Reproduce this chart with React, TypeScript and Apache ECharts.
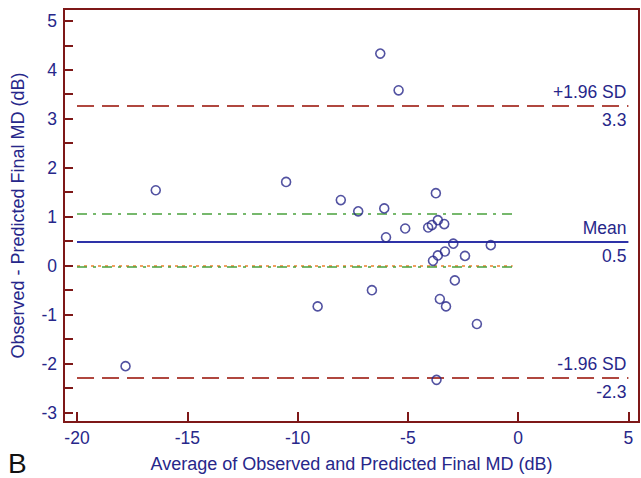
import React, { useEffect, useRef } from "react";
import * as echarts from "echarts";

// Average of observed and predicted final MD (dB)
const avgValues = [
  -6.25, -5.42, -16.43, -10.52, -8.04, -7.25, -6.07, -3.73, -5.12, -4.08,
  -3.91, -3.64, -3.35, -5.99, -2.94, -1.24, -3.64, -3.32, -3.86, -2.41,
  -2.87, -6.63, -3.55, -3.27, -9.09, -1.87, -3.7, -17.8,
];
// Observed - predicted final MD (dB)
const diffValues = [
  4.33, 3.58, 1.54, 1.71, 1.34, 1.11, 1.17, 1.48, 0.76, 0.78,
  0.83, 0.93, 0.85, 0.58, 0.45, 0.42, 0.21, 0.29, 0.1, 0.2,
  -0.3, -0.5, -0.68, -0.83, -0.83, -1.19, -2.33, -2.05,
];

const xTicks = [-20, -15, -10, -5, 0, 5];
const yLabels = [-3, -2, -1, 0, 1, 2, 3, 4, 5];
const yTicks = [-3, -2.5, -2, -1.5, -1, -0.5, 0, 0.5, 1, 1.5, 2, 2.5, 3, 3.5, 4, 4.5, 5];

const meanValue = 0.49;
const upperLoA = 3.27;
const lowerLoA = -2.29;
const ciUpper = 1.06;
const ciLower = -0.03;
const lineStart = -20;
const lineEnd = 5;
const ciEnd = -0.25;

const NAVY = "#27278a";
const MAROON = "#7e1818";
const FONT = "Liberation Sans, Arial, sans-serif";
const LABEL_SIZE = 17.5;

export default function App() {
  const ref = useRef<HTMLDivElement>(null);
  useEffect(() => {
    if (!ref.current) return;
    const chart = echarts.init(ref.current, null, { renderer: "svg" });
    const pts = avgValues.map((x, i) => [x, diffValues[i]]);

    const hLine = (
      y: number,
      x1: number,
      x2: number,
      color: string,
      type: any,
      width: number,
      label?: { text: string; pos: string }
    ) => [
      {
        coord: [x1, y],
        lineStyle: { color, type, width },
        label: label
          ? {
              show: true,
              formatter: label.text,
              position: label.pos,
              color: NAVY,
              fontSize: LABEL_SIZE,
              fontFamily: FONT,
              distance: [2, 5],
            }
          : { show: false },
      },
      { coord: [x2, y] },
    ];

    const SD = "#b0473f";
    const CLEAR = "rgba(0,0,0,0)";

    chart.setOption({
      animation: false,
      textStyle: { fontFamily: FONT },
      grid: {
        left: 64,
        right: 2,
        top: 9,
        bottom: 55,
        show: true,
        borderColor: MAROON,
        borderWidth: 2,
        backgroundColor: "transparent",
      },
      xAxis: {
        type: "value",
        min: -20.59,
        max: 5.48,
        name: "Average of Observed and Predicted Final MD (dB)",
        nameLocation: "middle",
        nameGap: 33,
        nameTextStyle: { color: NAVY, fontSize: 18, fontFamily: FONT },
        axisLine: { show: false, onZero: false },
        axisTick: {
          show: true,
          inside: true,
          length: 10,
          customValues: xTicks,
          lineStyle: { color: MAROON, width: 2 },
        },
        axisLabel: {
          customValues: xTicks,
          color: NAVY,
          fontSize: LABEL_SIZE,
          fontFamily: FONT,
          margin: 7,
        },
        splitLine: { show: false },
      },
      yAxis: {
        type: "value",
        min: -3.19,
        max: 5.24,
        name: "Observed - Predicted Final MD (dB)",
        nameLocation: "middle",
        nameGap: 37,
        nameTextStyle: { color: NAVY, fontSize: 18, fontFamily: FONT },
        axisLine: { show: false, onZero: false },
        axisTick: {
          show: true,
          inside: true,
          length: 9,
          customValues: yTicks,
          lineStyle: { color: MAROON, width: 2 },
        },
        axisLabel: {
          customValues: yLabels,
          color: NAVY,
          fontSize: LABEL_SIZE,
          fontFamily: FONT,
          margin: 7,
        },
        splitLine: { show: false },
      },
      graphic: [
        {
          type: "text",
          left: 8,
          top: 449,
          style: { text: "B", fontSize: 28, fontFamily: FONT, fill: "#111" },
        },
      ],
      series: [
        {
          type: "scatter",
          data: pts,
          symbol: "circle",
          symbolSize: 9,
          itemStyle: { color: CLEAR, borderColor: NAVY, borderWidth: 1.6 },
          z: 5,
          markLine: {
            silent: true,
            symbol: ["none", "none"],
            data: [
              hLine(upperLoA, lineStart, lineEnd, SD, [17, 8], 2, { text: "+1.96 SD", pos: "insideEndTop" }),
              hLine(upperLoA, lineStart, lineEnd, CLEAR, "solid", 1, { text: "3.3", pos: "insideEndBottom" }),
              hLine(meanValue, lineStart, lineEnd, "#2e32a8", "solid", 2, { text: "Mean", pos: "insideEndTop" }),
              hLine(meanValue, lineStart, lineEnd, CLEAR, "solid", 1, { text: "0.5", pos: "insideEndBottom" }),
              hLine(lowerLoA, lineStart, lineEnd, SD, [17, 8], 2, { text: "-1.96 SD", pos: "insideEndTop" }),
              hLine(lowerLoA, lineStart, lineEnd, CLEAR, "solid", 1, { text: "-2.3", pos: "insideEndBottom" }),
              hLine(ciUpper, lineStart, ciEnd, "#4aa13c", [10, 6, 3, 6], 1.5),
              hLine(0, lineStart, ciEnd, "#f0a060", [3, 4], 2),
              hLine(ciLower, lineStart, ciEnd, "#4aa13c", [10, 6, 3, 6], 1.5),
            ],
          },
        },
      ],
    });
    return () => chart.dispose();
  }, []);
  return <div ref={ref} style={{ width: 641, height: 478, position: "absolute", left: 0, top: 0 }} />;
}
